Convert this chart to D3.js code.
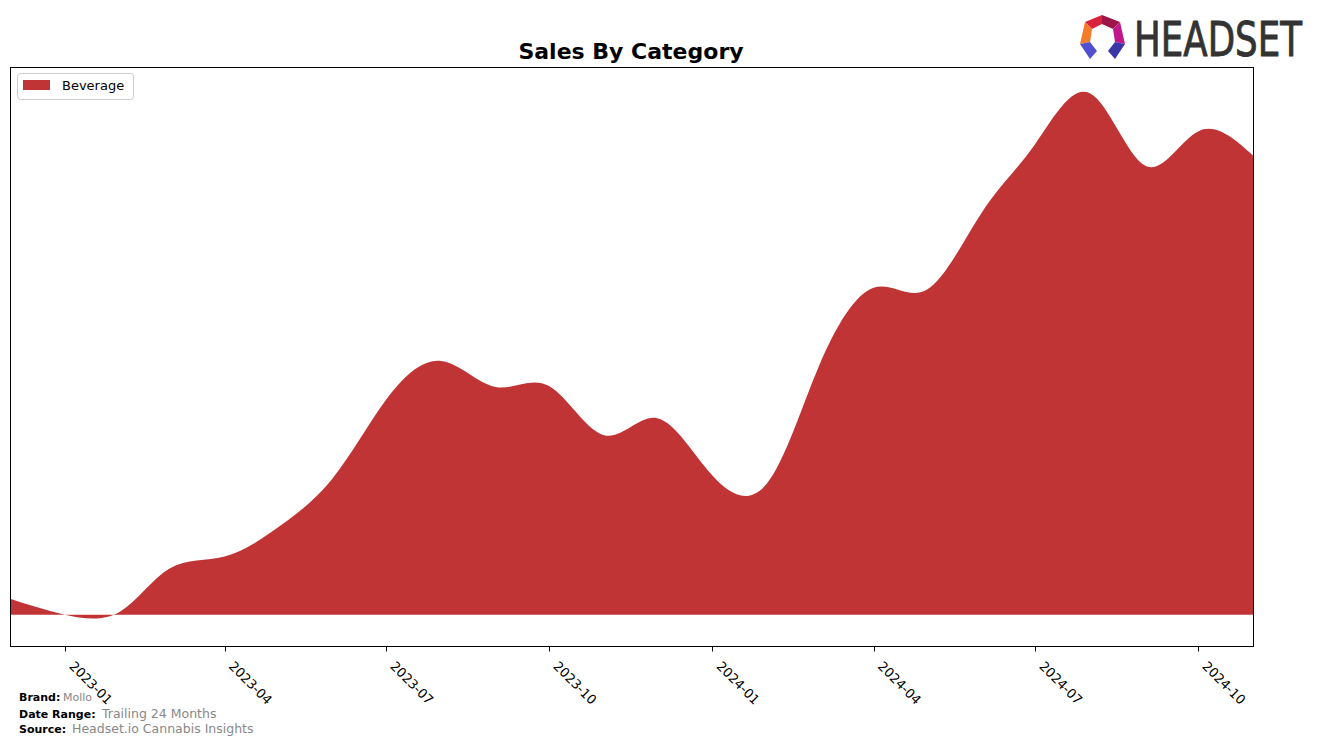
<!DOCTYPE html>
<html lang="en">
  <head>
    <meta charset="UTF-8" />
    <title>Sales By Category</title>
    <script src="https://d3js.org/d3.v7.min.js"></script>
    <style>
      body {
        margin: 0;
        background: #fff;
        font-family: "DejaVu Sans", sans-serif;
      }
    </style>
  </head>
  <body>
    <div id="chart"></div>
    <script>
      // Monthly sales for the Beverage category (relative units)
      const months = [
        "2022-12", "2023-01", "2023-02", "2023-03", "2023-04", "2023-05",
        "2023-06", "2023-07", "2023-08", "2023-09", "2023-10", "2023-11",
        "2023-12", "2024-01", "2024-02", "2024-03", "2024-04", "2024-05",
        "2024-06", "2024-07", "2024-08", "2024-09", "2024-10", "2024-11"
      ];
      const beverage = [
        16, 0, 3, 46, 58, 87, 136, 214, 253, 227, 228, 179,
        196, 139, 131, 247, 326, 324, 401, 469, 520, 448, 482, 458
      ];
      const tickLabels = ["2023-01", "2023-04", "2023-07", "2023-10", "2024-01", "2024-04", "2024-07", "2024-10"];
      const seriesName = "Beverage";
      const splineDip = -5; // the smoothed curve undershoots a little below zero

      const width = 1317;
      const height = 746;
      const m = { left: 10, right: 64, top: 67, bottom: 100 };
      const parse = d3.timeParse("%Y-%m");

      const data = months.map((d, i) => ({ date: parse(d), value: beverage[i] }));

      const svg = d3
        .select("#chart")
        .append("svg")
        .attr("width", width)
        .attr("height", height);

      const x = d3
        .scaleTime()
        .domain(d3.extent(data, (d) => d.date))
        .range([m.left, width - m.right]);

      const lo = splineDip;
      const hi = d3.max(beverage);
      const pad = (hi - lo) * 0.05;
      const y = d3
        .scaleLinear()
        .domain([lo - pad, hi + pad])
        .range([height - m.bottom, m.top]);

      const area = d3
        .area()
        .x((d) => x(d.date))
        .y0(y(0))
        .y1((d) => y(d.value))
        .curve(d3.curveNatural);

      svg
        .append("path")
        .datum(data)
        .attr("fill", "#c13435")
        .attr("d", area);

      // frame
      svg
        .append("rect")
        .attr("x", m.left + 0.5)
        .attr("y", m.top + 0.5)
        .attr("width", width - m.right - m.left)
        .attr("height", height - m.bottom - m.top)
        .attr("fill", "none")
        .attr("stroke", "#000")
        .attr("stroke-width", 1);

      // x axis ticks
      const ticks = tickLabels.map(parse);
      const axis = svg
        .append("g")
        .attr("transform", `translate(0,${height - m.bottom + 0.5})`);
      axis
        .selectAll("line")
        .data(ticks)
        .join("line")
        .attr("x1", (d) => Math.round(x(d)) + 0.5)
        .attr("x2", (d) => Math.round(x(d)) + 0.5)
        .attr("y1", 0)
        .attr("y2", 5)
        .attr("stroke", "#000");
      axis
        .selectAll("text")
        .data(ticks)
        .join("text")
        .attr("transform", (d) => `translate(${x(d) + 10},${14}) rotate(45)`)
        .attr("dy", "0.7em")
        .attr("font-size", 13)
        .attr("fill", "#000")
        .text((d, i) => tickLabels[i]);

      // title
      svg
        .append("text")
        .attr("x", 631)
        .attr("y", 59)
        .attr("text-anchor", "middle")
        .attr("font-size", 22)
        .attr("font-weight", "bold")
        .text("Sales By Category");

      // legend
      const lg = svg.append("g").attr("transform", "translate(17,73)");
      lg.append("rect")
        .attr("x", 0.5)
        .attr("y", 0.5)
        .attr("width", 116)
        .attr("height", 26)
        .attr("rx", 3)
        .attr("fill", "#fff")
        .attr("stroke", "#ccc");
      lg.append("rect")
        .attr("x", 6)
        .attr("y", 7)
        .attr("width", 27)
        .attr("height", 10)
        .attr("fill", "#c13435");
      lg.append("text")
        .attr("x", 45)
        .attr("y", 17)
        .attr("font-size", 13)
        .text(seriesName);

      // footer
      const foot = [
        { label: "Brand:", value: "Mollo", y: 701, vx: 63, vs: 11 },
        { label: "Date Range:", value: "Trailing 24 Months", y: 718, vx: 102, vs: 12.5 },
        { label: "Source:", value: "Headset.io Cannabis Insights", y: 733, vx: 72, vs: 12.5 }
      ];
      foot.forEach((f) => {
        svg.append("text")
          .attr("x", 19)
          .attr("y", f.y)
          .attr("font-size", 11)
          .attr("font-weight", "bold")
          .text(f.label);
        svg.append("text")
          .attr("x", f.vx)
          .attr("y", f.y)
          .attr("font-size", f.vs)
          .attr("fill", "#888")
          .text(f.value);
      });

      // logo
      const logo = svg.append("g");
      const facets = [
        { c: "#d9223c", p: [[1085, 22], [1102, 15], [1102, 24], [1092, 29]] },
        { c: "#9c1747", p: [[1102, 15], [1120, 22], [1113, 29], [1102, 24]] },
        { c: "#f47b2a", p: [[1085, 22], [1092, 29], [1090, 42], [1080, 44]] },
        { c: "#c0188a", p: [[1120, 22], [1125, 44], [1115, 42], [1113, 29]] },
        { c: "#5150d0", p: [[1080, 44], [1090, 42], [1097, 51], [1090, 59]] },
        { c: "#3a36a8", p: [[1125, 44], [1115, 42], [1108, 51], [1115, 59]] }
      ];
      logo.selectAll("polygon")
        .data(facets)
        .join("polygon")
        .attr("points", (d) => d.p.map((q) => q.join(",")).join(" "))
        .attr("fill", (d) => d.c);
      logo.append("text")
        .attr("transform", "translate(1134,56) scale(1,1.36)")
        .attr("font-size", 35)
        .attr("fill", "#333")
        .attr("stroke", "#333")
        .attr("stroke-width", 0.7)
        .attr("textLength", 168)
        .attr("lengthAdjust", "spacingAndGlyphs")
        .text("HEADSET");
    </script>
  </body>
</html>
